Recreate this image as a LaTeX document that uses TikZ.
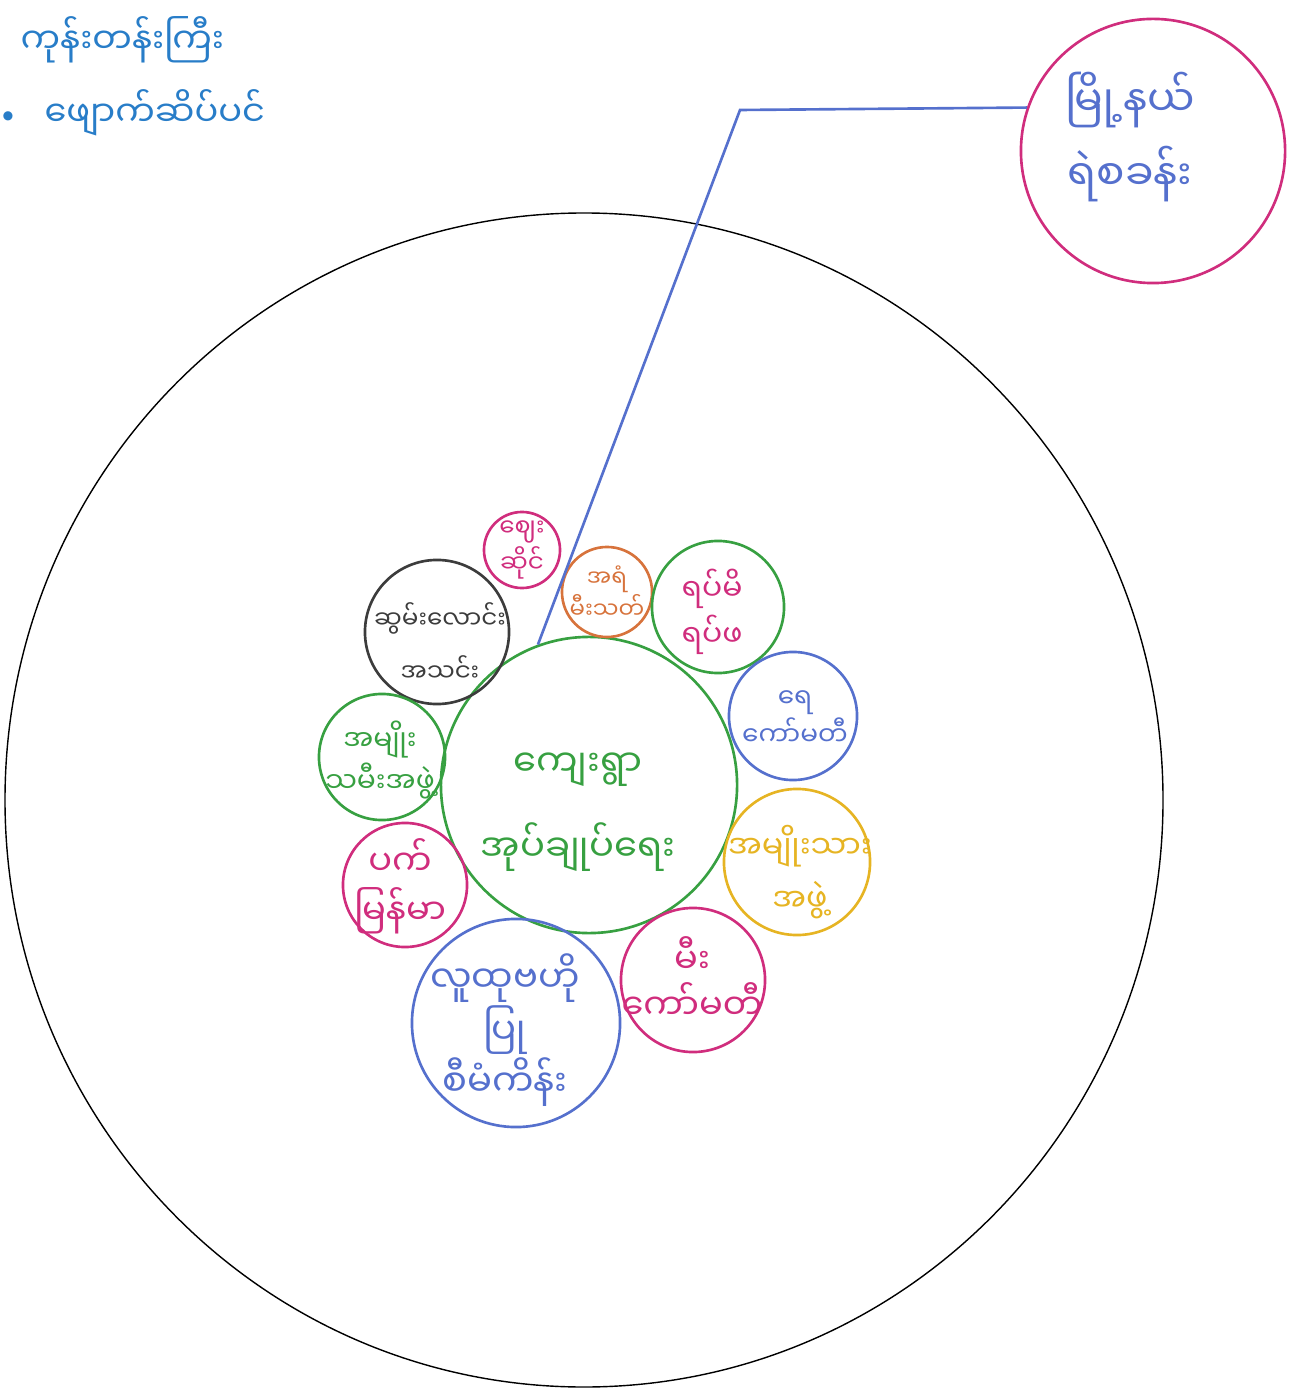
\documentclass[tikz,border=0pt]{standalone}
\usepackage{fontspec}
\newfontfamily\mya[Script=Myanmar]{Noto Sans Myanmar UI}
\definecolor{penblue}{RGB}{40,125,200}
\definecolor{inkblue}{RGB}{85,112,205}
\definecolor{inkpink}{RGB}{208,45,125}
\definecolor{inkgreen}{RGB}{55,160,65}
\definecolor{inkorange}{RGB}{215,115,60}
\definecolor{inkyellow}{RGB}{230,180,35}
\definecolor{inkgray}{RGB}{60,60,60}
\tikzset{
  orb/.style n args={2}{circle,draw=#1,minimum size=#2,
    line width=0.75pt,inner sep=0pt},
  tag/.style n args={3}{text=#1,align=center,inner sep=0pt,
    font=\mya\fontsize{#2}{#3}\selectfont},
}
\begin{document}
\begin{tikzpicture}[x=0.01cm,y=-0.01cm]
\useasboundingbox (0,0) rectangle (1303,1392);
% outer boundary
\draw[line width=0.4pt] (584,800) ellipse [x radius=579,y radius=587];
% heading
\node[anchor=west,tag={penblue}{10}{12}] (title) at (20,40) {ကုန်းတန်းကြီး};
\node[text=penblue,font=\small] (dot) at (8,118) {\textbullet};
\node[anchor=west,tag={penblue}{10}{12}] (place) at (44,113) {ဖျောက်ဆိပ်ပင်};
% police station
\node[orb={inkpink}{2.64cm}] (station) at (1153,151) {};
\node[tag={inkblue}{12}{21}] (station-t) at (1130,137) {မြို့နယ်\\ရဲစခန်း};
% village administration
\node[orb={inkgreen}{2.96cm}] (admin) at (589,785) {};
\node[tag={inkgreen}{10.5}{24}] (admin-t) at (578,812) {ကျေးရွာ\\အုပ်ချုပ်ရေး};
% groups round it
\node[orb={inkpink}{0.76cm}] (market) at (522,550) {};
\node[tag={inkpink}{7}{9}] (market-t) at (522,550) {ဈေး\\ဆိုင်};
\node[orb={inkgray}{1.44cm}] (alms) at (437,632) {};
\node[tag={inkgray}{7}{15}] (alms-t) at (440,642) {ဆွမ်းလောင်း\\အသင်း};
\node[orb={inkorange}{0.90cm}] (fire) at (607,592) {};
\node[tag={inkorange}{6.5}{9}] (fire-t) at (607,592) {အရံ\\မီးသတ်};
\node[orb={inkgreen}{1.32cm}] (elders) at (718,607) {};
\node[tag={inkpink}{8.5}{13}] (elders-t) at (712,612) {ရပ်မိ\\ရပ်ဖ};
\node[orb={inkblue}{1.28cm}] (water) at (793,716) {};
\node[tag={inkblue}{7.5}{11}] (water-t) at (795,718) {ရေ\\ကော်မတီ};
\node[orb={inkyellow}{1.46cm}] (men) at (797,862) {};
\node[tag={inkyellow}{9}{15}] (men-t) at (800,872) {အမျိုးသား\\အဖွဲ့};
\node[orb={inkpink}{1.44cm}] (firecom) at (693,980) {};
\node[tag={inkpink}{10}{13}] (firecom-t) at (692,978) {မီး\\ကော်မတီ};
\node[orb={inkblue}{2.08cm}] (cdd) at (516,1023) {};
\node[tag={inkblue}{10.5}{12}] (cdd-t) at (505,1030) {လူထုဗဟို\\ပြု\\စီမံကိန်း};
\node[orb={inkpink}{1.24cm}] (pact) at (405,885) {};
\node[tag={inkpink}{10}{14}] (pact-t) at (400,886) {ပက်\\မြန်မာ};
\node[orb={inkgreen}{1.26cm}] (women) at (382,757) {};
\node[tag={inkgreen}{8}{12}] (women-t) at (380,760) {အမျိုး\\သမီးအဖွဲ့};
% link to police
\coordinate (bend) at (740,110);
\draw[inkblue,line width=0.75pt] (station.161) -- (bend) -- (admin.110);
\end{tikzpicture}
\end{document}
